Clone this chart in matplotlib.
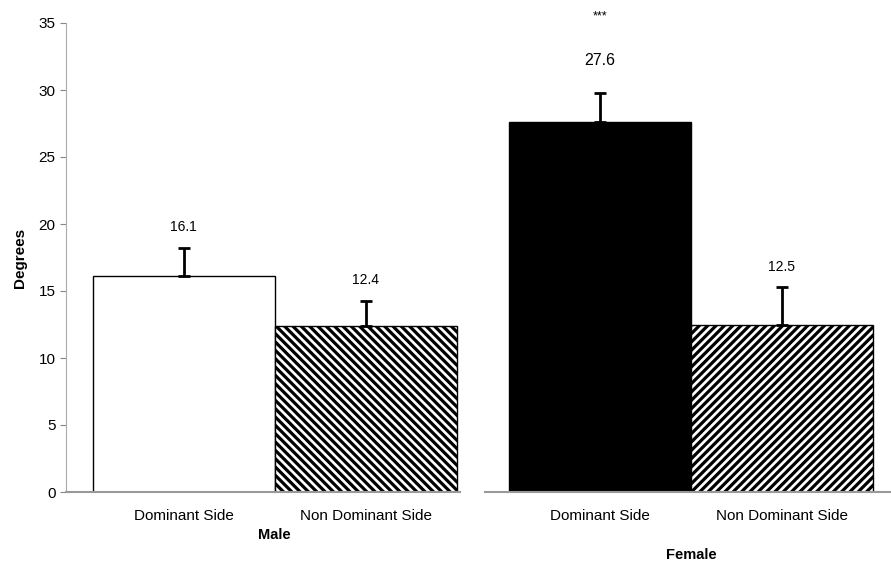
import numpy as np
import matplotlib
matplotlib.use("Agg")
import matplotlib.pyplot as plt

plt.rcParams['font.family'] = ['Liberation Sans', 'DejaVu Sans']
plt.rcParams['hatch.linewidth'] = 2.3

# ------------------------------------------------------------
# DATA
# ------------------------------------------------------------
sides = ["Dominant Side", "Non Dominant Side"]
groups = ["Male", "Female"]
male_means = [16.1, 12.4]
male_err = [2.1, 1.85]
female_means = [27.6, 12.5]
female_err = [2.2, 2.8]
yticks = [0, 5, 10, 15, 20, 25, 30, 35]

W, H = 891, 566
fig = plt.figure(figsize=(W / 100, H / 100), dpi=100)

def px_axes(x0, x1, y_top, y_bot):
    return fig.add_axes([x0 / W, 1 - y_bot / H, (x1 - x0) / W, (y_bot - y_top) / H])

ax1 = px_axes(66, 460, 23, 492)
ax2 = px_axes(485, 891, 23, 492)

x = np.arange(2)

def draw(ax, means, errs, colors, hatches, xlim):
    for i in range(2):
        ax.bar(x[i], means[i], width=1.0, color=colors[i], edgecolor='black',
               linewidth=1.0, hatch=hatches[i], zorder=2)
        ax.errorbar(x[i], means[i], yerr=[[0], [errs[i]]], fmt='none',
                    ecolor='black', elinewidth=2, capsize=4, capthick=2, zorder=3)
    ax.set_xlim(*xlim)
    ax.set_ylim(0, 35)
    ax.set_xticks(x)
    ax.set_xticklabels(sides, fontsize=11)
    ax.tick_params(axis='x', length=0, pad=12)
    for s in ['top', 'right']:
        ax.spines[s].set_visible(False)
    ax.spines['bottom'].set_color('#999999')
    ax.spines['bottom'].set_linewidth(1.5)

# ---- Male ----
draw(ax1, male_means, male_err, ['white', 'white'], [None, '\\\\\\\\'], (-0.646, 1.519))
ax1.set_yticks(yticks)
ax1.tick_params(axis='y', labelsize=11, length=4, color='#888888', direction='out')
ax1.spines['left'].set_color('#aaaaaa')
ax1.spines['left'].set_linestyle((0, (2, 1)))
ax1.set_ylabel("Degrees", fontsize=11, fontweight='bold', labelpad=8)
for i in range(2):
    ax1.text(x[i], male_means[i] + male_err[i] + 1.6, f"{male_means[i]}",
             ha='center', va='center', fontsize=10)
ax1.text(0.5, -0.092, groups[0], transform=ax1.get_xaxis_transform(),
         ha='center', va='center', fontsize=10.5, fontweight='bold')

# ---- Female ----
draw(ax2, female_means, female_err, ['black', 'white'], [None, '////'], (-0.632, 1.599))
ax2.set_yticks([])
ax2.spines['left'].set_visible(False)
ax2.text(x[0], female_means[0] + female_err[0] + 2.4, f"{female_means[0]}",
         ha='center', va='center', fontsize=11.5)
ax2.text(x[0], female_means[0] + female_err[0] + 5.7, "***",
         ha='center', va='center', fontsize=9, clip_on=False)
ax2.text(x[1], female_means[1] + female_err[1] + 1.5, f"{female_means[1]}",
         ha='center', va='center', fontsize=10)
ax2.text(0.5, -0.134, groups[1], transform=ax2.get_xaxis_transform(),
         ha='center', va='center', fontsize=10.5, fontweight='bold')

fig.savefig("out.png", dpi=100)
